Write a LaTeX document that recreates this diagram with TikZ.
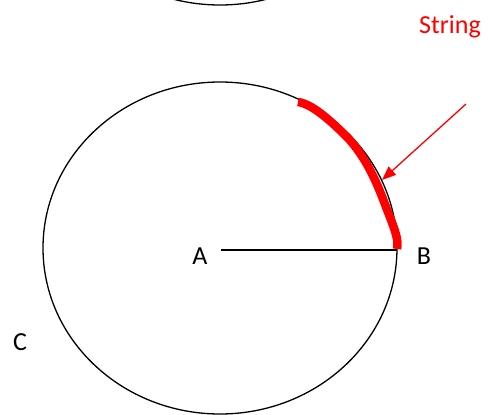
\documentclass[tikz,border=0pt]{standalone}
\usepackage{fontspec}
\setmainfont{Carlito}
\usetikzlibrary{arrows.meta}
\begin{document}
\begin{tikzpicture}[x=1pt,y=-1pt,
  circ/.style={draw=black,line width=1.3pt},
  lbl/.style={font=\fontsize{26}{30}\selectfont,inner sep=0pt},
  stringarc/.style={draw=red,line width=8.5pt,line cap=butt,line join=round},
  pointer/.style={draw=red,line width=1.3pt,-{Triangle[length=14pt,width=11pt]}}]
\useasboundingbox (0,0) rectangle (488,415);
\clip (0,0) rectangle (488,415);
% circles
\draw[circ] (220,-161) ellipse [x radius=177, y radius=166];
\draw[circ] (220,248) ellipse [x radius=177, y radius=166];
% radius
\coordinate (ctr) at (221,250);
\coordinate (Bpt) at (397,250);
\draw[line width=1.3pt] (ctr) -- (Bpt);
% string arc
\draw[stringarc] (298,102) .. controls (312,104) and (330,120) .. (348,138)
  .. controls (366,158) and (376,180) .. (386,207)
  .. controls (395,230) and (399,240) .. (397,249);
% labels
\node[lbl] (A) at (200,256) {A};
\node[lbl] (B) at (424,256) {B};
\node[lbl] (C) at (20,342) {C};
\node[lbl,text=red] (S) at (450,27) {String};
\coordinate (arrS) at (466,104);
\coordinate (arrE) at (382,180);
\draw[pointer] (arrS) -- (arrE);
\end{tikzpicture}
\end{document}
